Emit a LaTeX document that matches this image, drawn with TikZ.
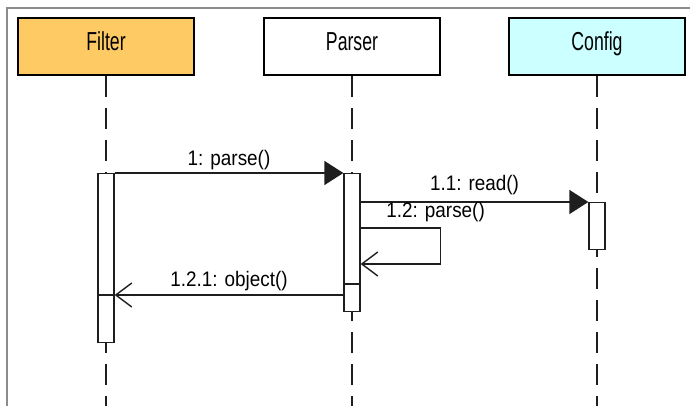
\documentclass[tikz,border=0pt]{standalone}
\usepackage{fontspec}
\setmainfont{Liberation Sans}
\usepackage{graphicx}
\usetikzlibrary{positioning,arrows.meta,calc}
\definecolor{filterfill}{RGB}{253,202,100}
\definecolor{configfill}{RGB}{204,255,255}
\definecolor{framegray}{RGB}{140,140,140}
\definecolor{inkgray}{RGB}{30,30,30}
\newcommand{\titletxt}[1]{\scalebox{0.68}[1]{\fontsize{26}{26}\selectfont #1}}
\newcommand{\msgtxt}[1]{\scalebox{0.9}[1]{\fontsize{21}{21}\selectfont #1}}
\tikzset{
  object/.style={draw=black, line width=2.7pt, minimum width=176pt, minimum height=57pt,
    inner sep=0pt, text height=19pt, text depth=10pt, text=black},
  lifeline/.style={draw=inkgray, line width=1.2pt, dash pattern=on 21pt off 11pt},
  actbar/.style={draw=inkgray, fill=white, line width=1.3pt, minimum width=16pt,
    inner sep=0pt, anchor=north},
  call/.style={draw=inkgray, line width=1.4pt, -{Triangle[length=19pt,width=24pt]}},
  reply/.style={draw=inkgray, line width=1.4pt,
    -{Straight Barb[length=16pt,width=24pt,line width=1.4pt]}},
  divider/.style={draw=inkgray, line width=1.3pt},
  msglabel/.style={inner sep=0pt, text=black},
  frame/.style={draw=framegray, line width=2pt}
}

\begin{document}
\begin{tikzpicture}[x=1pt,y=-1pt]
  \useasboundingbox (0,0) rectangle (690,406);
  \draw[frame] (7,406) -- (7,8) -- (690,8);
  % objects
  \node[object, fill=filterfill] (filter) at (106,46.5) {\titletxt{Filter}};
  \node[object, fill=white] (parser) at (352,46.5) {\titletxt{Parser}};
  \node[object, fill=configfill] (config) at (597,46.5) {\titletxt{Config}};
  % lifelines
  \draw[lifeline] (filter.south) -- (filter.south |- 0,406);
  \draw[lifeline] (parser.south) -- (parser.south |- 0,406);
  \draw[lifeline] (config.south) -- (config.south |- 0,406);
  % activations
  \node[actbar, minimum height=169pt] (fbar) at (filter.south |- 0,173) {};
  \node[actbar, minimum height=138pt] (pbar) at (parser.south |- 0,173) {};
  \node[actbar, minimum height=47pt] (cbar) at (config.south |- 0,202) {};
  \draw[divider] (fbar.west |- 0,295) -- (fbar.east |- 0,295);
  \draw[divider] (pbar.west |- 0,284) -- (pbar.east |- 0,284);
  % messages
  \draw[call] (fbar.north east) -- node[msglabel, above=2pt] {\msgtxt{1: parse()}} (pbar.north west);
  \draw[call] (pbar.east |- cbar.north) -- node[msglabel, above=6pt] {\msgtxt{1.1: read()}} (cbar.north west);
  \draw[reply] (pbar.east |- 0,228) -- ++(80,0)
    node[msglabel, above=5pt, xshift=-5pt] {\msgtxt{1.2: parse()}} -- ++(0,36) -- ++(-80,0);
  \draw[reply] (pbar.west |- 0,295) -- node[msglabel, above=3pt] {\msgtxt{1.2.1: object()}} (fbar.east |- 0,295);
\end{tikzpicture}
\end{document}
